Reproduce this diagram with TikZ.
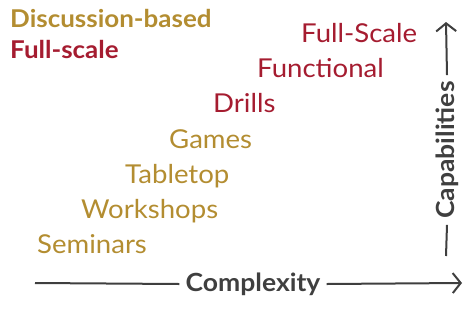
\documentclass[tikz,border=0pt]{standalone}
\usepackage{fontspec}
\setmainfont{Lato}[FakeStretch=1.06]
\usetikzlibrary{arrows.meta}
\definecolor{gold}{HTML}{B38D31}
\definecolor{crimson}{HTML}{A51C30}
\definecolor{axisgray}{HTML}{3F3F3F}
\tikzset{
  level/.style={anchor=base west, inner sep=0pt, font=\fontsize{26}{30}\selectfont},
  legend/.style={anchor=base west, inner sep=0pt, font=\fontsize{24.5}{28}\selectfont\bfseries},
  axis/.style={draw=axisgray, line width=2pt},
  axistip/.style={-{Straight Barb[length=8pt, width=20pt, line width=2pt]}},
  axislabel/.style={text=axisgray, inner sep=0pt, font=\fontsize{25}{29}\selectfont\bfseries}
}
\begin{document}
\begin{tikzpicture}[x=1pt, y=-1pt]
\useasboundingbox (0,0) rectangle (465,335);
% legend
\node[legend, text=gold] (lgd) at (10,27) {Discussion-based};
\node[legend, text=crimson] (lfs) at (10,58) {Full-scale};
% exercise levels, stepping up and to the right
\node[level, text=gold] (sem) at (37,253) {Seminars};
\node[level, text=gold] (wor) at (81,218) {Workshops};
\node[level, text=gold] (tab) at (125,183) {Tabletop};
\node[level, text=gold] (gam) at (169,148) {Games};
\node[level, text=crimson] (dri) at (213,112) {Drills};
\node[level, text=crimson] (fun) at (257,77) {Functional};
\node[level, text=crimson] (ful) at (301,42) {Full-Scale};
% complexity axis
\coordinate (h0) at (35,283);
\coordinate (h1) at (462,283);
\node[axislabel, anchor=center] (cx) at (253,284) {Complexity};
\draw[axis] (h0) -- ([xshift=-6pt]cx.west);
\draw[axis, axistip] ([xshift=6pt]cx.east) -- (h1);
% capabilities axis
\coordinate (v0) at (446,256);
\coordinate (v1) at (446,22);
\node[axislabel, rotate=90, anchor=center] (cp) at (447,150) {Capabilities};
\draw[axis] (v0) -- ([yshift=-6pt]cp.west);
\draw[axis, axistip] ([yshift=6pt]cp.east) -- (v1);
\end{tikzpicture}
\end{document}
